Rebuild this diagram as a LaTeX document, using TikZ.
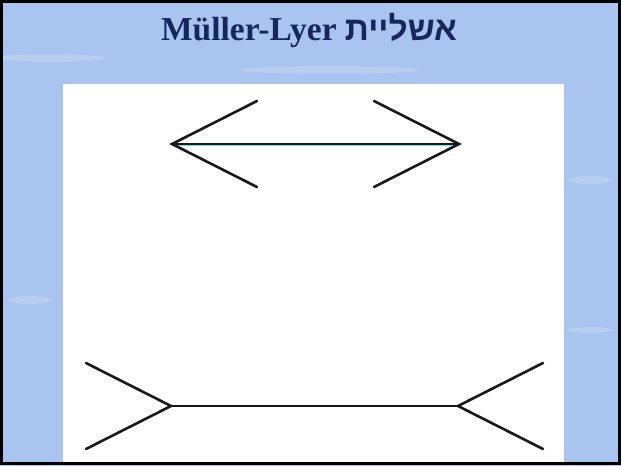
\documentclass[tikz,border=0pt]{standalone}
\usepackage{fontspec}
\setmainfont{Liberation Serif}
\newfontfamily\hebfont[Script=Hebrew]{Liberation Sans}
\TeXXeTstate=1
\definecolor{skyblue}{HTML}{A9C4EE}
\definecolor{titlenavy}{HTML}{16275C}
\definecolor{shaftcyan}{HTML}{6FE0E6}
\tikzset{
  fin/.style={line width=2.6pt, line cap=round, black!90},
  titletext/.style={font=\fontsize{33.5}{36}\selectfont\bfseries, text=titlenavy, inner sep=0pt},
  cloud/.style={white!50!skyblue, opacity=0.35},
}
\begin{document}
\begin{tikzpicture}[x=1pt,y=-1pt]
\useasboundingbox (0,0) rectangle (621,466);
% background
\fill[skyblue] (0,0) rectangle (621,466);
\fill[cloud] (50,58) ellipse (55 and 4);
\fill[cloud] (330,70) ellipse (90 and 4);
\fill[cloud] (590,180) ellipse (22 and 4);
\fill[cloud] (30,300) ellipse (22 and 4);
\fill[cloud] (590,330) ellipse (22 and 3);
% white panel
\fill[white] (63,84) rectangle (564,463);
% frame
\draw[black, line width=3pt] (1.5,1.5) rectangle (619.5,463.5);
% title
\node[titletext, anchor=base] (title) at (309,40) {\beginR{\hebfont אשליית} \beginL Müller-Lyer\endL\endR};
% top figure (arrows pointing out)
\coordinate (tl) at (172,144);
\coordinate (tr) at (459,144);
\coordinate (tlu) at (257,101);
\coordinate (tld) at (257,187);
\coordinate (tru) at (374,101);
\coordinate (trd) at (374,187);
\draw[shaftcyan, line width=0.8pt] ([yshift=-1.8pt]tl) -- ([yshift=-1.8pt]tr);
\draw[fin] (tl) -- (tr);
\draw[fin] (tlu) -- (tl) -- (tld);
\draw[fin] (tru) -- (tr) -- (trd);
% bottom figure (fins pointing in)
\coordinate (bl) at (171,406);
\coordinate (br) at (458,406);
\coordinate (blu) at (86,363);
\coordinate (bld) at (86,449);
\coordinate (bru) at (543,363);
\coordinate (brd) at (543,449);
\draw[fin] (bl) -- (br);
\draw[fin] (blu) -- (bl) -- (bld);
\draw[fin] (bru) -- (br) -- (brd);
\end{tikzpicture}
\end{document}
